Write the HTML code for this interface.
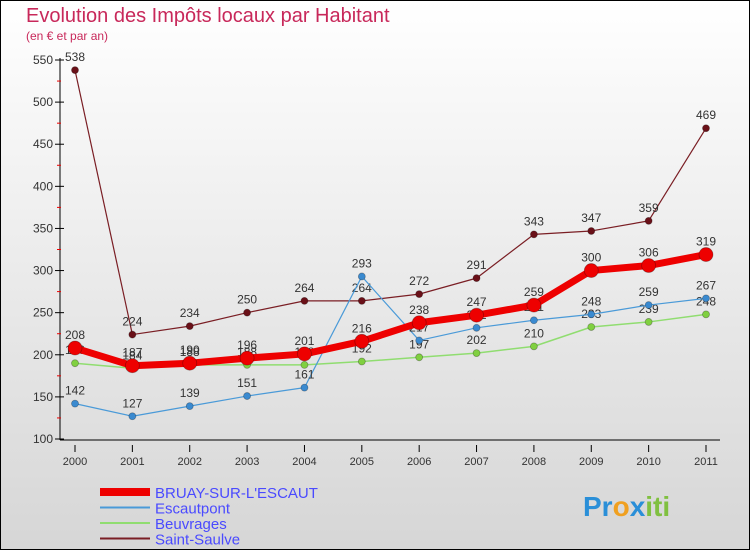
<!DOCTYPE html>
<html><head><meta charset="utf-8"><style>
body{margin:0}
#c{width:750px;height:550px;position:relative;font-family:"Liberation Sans",sans-serif}
</style></head><body>
<div id="c">
<svg id="s" width="750" height="550" xmlns="http://www.w3.org/2000/svg">
<defs><linearGradient id="bg" x1="0" y1="0" x2="0" y2="1"><stop offset="0" stop-color="#ffffff"/><stop offset="1" stop-color="#d6d6d6"/></linearGradient></defs>
<rect x="0.5" y="0.5" width="749" height="549" fill="url(#bg)" stroke="#000"/>
<text x="26" y="22" font-size="20" fill="#c8285a">Evolution des Impôts locaux par Habitant</text>
<text x="26" y="40" font-size="12" fill="#c8285a">(en € et par an)</text>
<g id="axes"></g><g id="series"></g><g id="legend"></g>
<text x="583" y="516" font-size="28" font-weight="bold"><tspan fill="#2a8fd8">Pr</tspan><tspan fill="#f0a020">o</tspan><tspan fill="#2a8fd8">x</tspan><tspan fill="#80c040">iti</tspan></text>
</svg>
</div>
<script>
const years=[2000,2001,2002,2003,2004,2005,2006,2007,2008,2009,2010,2011];
const bruay=[208,187,190,196,201,216,238,247,259,300,306,319];
const escautpont=[142,127,139,151,161,293,217,232,241,248,259,267];
const beuvrages=[190,184,188,188,188,192,197,202,210,233,239,248];
const saintSaulve=[538,224,234,250,264,264,272,291,343,347,359,469];
const yTicks=[100,150,200,250,300,350,400,450,500,550];
const NS="http://www.w3.org/2000/svg";
function xs(i){return 75+i*(706-75)/11;}
function ys(v){return 439-(v-100)*(439-60)/450;}
function mk(tag,attrs,parent,txt){const e=document.createElementNS(NS,tag);for(const k in attrs)e.setAttribute(k,attrs[k]);if(txt!==undefined)e.textContent=txt;parent.appendChild(e);return e;}
const ax=document.getElementById('axes');
let a=mk('line',{x1:60,y1:58,x2:60,y2:440,stroke:'#000'},ax);

a=mk('line',{x1:60,y1:440,x2:720,y2:440,stroke:'#000'},ax);

yTicks.forEach(v=>{
 const y=ys(v);
 mk('line',{x1:55,y1:y,x2:64,y2:y,stroke:'#000'},ax);
 const t=mk('text',{x:53,y:y+4,'font-size':12,'text-anchor':'end',fill:'#333'},ax,String(v));
 
 if(v<550){const ym=ys(v+25);mk('line',{x1:57,y1:ym,x2:61,y2:ym,stroke:'#e00'},ax);}
});
years.forEach((yr,i)=>{
 const x=xs(i);
 mk('line',{x1:x,y1:445,x2:x,y2:452,stroke:'#000'},ax);
 const t=mk('text',{x:x,y:465,'font-size':11,'text-anchor':'middle',fill:'#333'},ax,String(yr));
 
});
const series=[
 {name:'saint-saulve',label:'Saint-Saulve',data:saintSaulve,color:'#7a1e24',w:1.2,r:3.5,fill:'#6a1018'},
 {name:'beuvrages',label:'Beuvrages',data:beuvrages,color:'#90dd70',w:1.5,r:3.5,fill:'#80d040'},
 {name:'escautpont',label:'Escautpont',data:escautpont,color:'#4a9ad8',w:1.2,r:3.5,fill:'#3a8ad0'},
 {name:'bruay',label:'BRUAY-SUR-L\'ESCAUT',data:bruay,color:'#ee0000',w:7,r:7,fill:'#ee0000'}
];
const sg=document.getElementById('series');
series.forEach(s=>{
 const g=mk('g',{},sg);
 
 const pl=mk('polyline',{points:s.data.map((v,i)=>xs(i)+','+ys(v)).join(' '),fill:'none',stroke:s.color,'stroke-width':s.w,'stroke-linejoin':'round'},g);
 
 s.data.forEach((v,i)=>{
  const c=mk('circle',{cx:xs(i),cy:ys(v),r:s.r,fill:s.fill,stroke:'rgba(0,0,0,0.3)','stroke-width':0.8},g);
  
  const t=mk('text',{x:xs(i),y:ys(v)-9,'font-size':12,'text-anchor':'middle',fill:'#333'},g,String(v));
  
 });
});
const lg=document.getElementById('legend');
const leg=[series[3],series[2],series[1],series[0]];
leg.forEach((s,i)=>{
 const y=492+i*15.5;
 const g=mk('g',{},lg);
 
 mk('line',{x1:100,y1:y,x2:150,y2:y,stroke:s.color,'stroke-width':i==0?8:2},g);
 mk('text',{x:155,y:y+6,'font-size':15,fill:'#4a4aff'},g,s.label);
});
</script>
</body></html>
